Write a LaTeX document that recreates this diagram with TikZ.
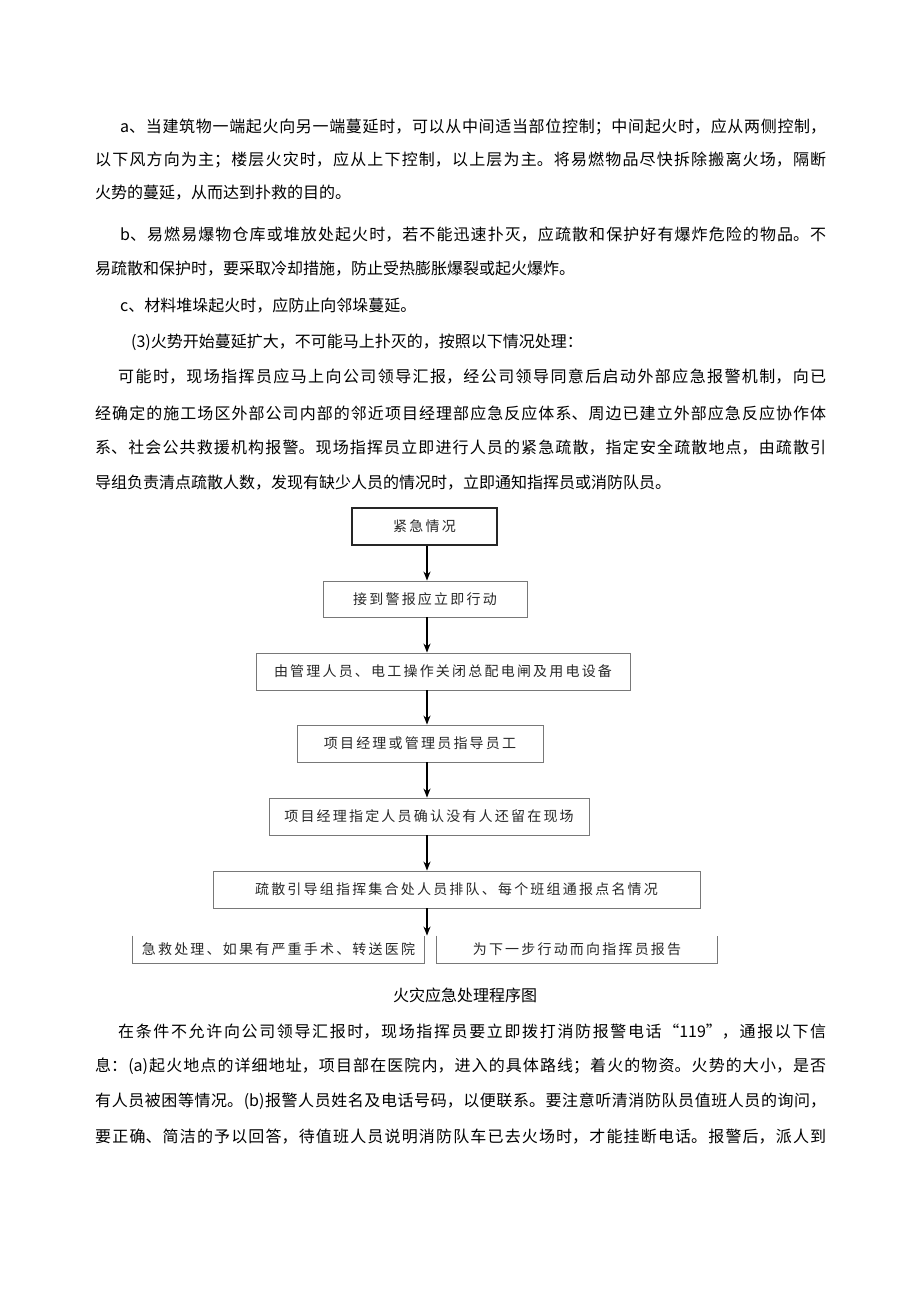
\documentclass[tikz,border=0pt]{standalone}
\usepackage{fontspec}
\setmainfont{Noto Sans CJK SC}
\usetikzlibrary{arrows.meta,positioning,calc}
\XeTeXlinebreaklocale "zh"
\XeTeXlinebreakskip=0pt plus 3pt
\tikzset{every node/.append style={align=center}}
\definecolor{boxline}{RGB}{120,120,120}
\definecolor{flowtext}{RGB}{40,40,40}
\tikzset{
  bodyline/.style={anchor=west, inner sep=0pt, font=\fontsize{16}{19}\selectfont},
  fullline/.style={bodyline, text width=731pt, align=justify},
  flowbox/.style={draw=boxline, line width=0.9pt, minimum height=37pt, inner sep=0pt,
    text=flowtext, font=\fontsize{14}{16}\selectfont},
  flowarrow/.style={-{Stealth[length=9pt,width=7pt]}, line width=1.3pt}
}
\newcommand{\jline}[1]{{\parfillskip=0pt\relax #1\par}}
\newcommand{\spread}[1]{\spreadaux#1\relax}
\def\spreadaux#1{\ifx#1\relax\else\kern1.1pt#1\kern1.1pt\expandafter\spreadaux\fi}

\begin{document}
\begin{tikzpicture}[x=1pt, y=-1pt]
    \useasboundingbox[fill=white] (0,0) rectangle (920,1301);

    % Paragraph a
    \node[fullline] (pa1) at (95,127) {\jline{\hspace*{25pt}a、当建筑物一端起火向另一端蔓延时，可以从中间适当部位控制；中间起火时，应从两侧控制，}};
    \node[fullline] (pa2) at (95,160) {\jline{以下风方向为主；楼层火灾时，应从上下控制，以上层为主。将易燃物品尽快拆除搬离火场，隔断}};
    \node[bodyline] (pa3) at (95,193) {火势的蔓延，从而达到扑救的目的。};

    % Paragraph b
    \node[fullline] (pb1) at (95,235) {\jline{\hspace*{25pt}b、易燃易爆物仓库或堆放处起火时，若不能迅速扑灭，应疏散和保护好有爆炸危险的物品。不}};
    \node[bodyline] (pb2) at (95,269) {易疏散和保护时，要采取冷却措施，防止受热膨胀爆裂或起火爆炸。};

    % Paragraph c
    \node[bodyline] (pc1) at (120,306) {c、材料堆垛起火时，应防止向邻垛蔓延。};

    % Item (3)
    \node[bodyline] (p31) at (131,342) {(3)火势开始蔓延扩大，不可能马上扑灭的，按照以下情况处理：};
    \node[fullline] (pd1) at (95,377) {\jline{\hspace*{23pt}可能时，现场指挥员应马上向公司领导汇报，经公司领导同意后启动外部应急报警机制，向已}};
    \node[fullline] (pd2) at (95,413) {\jline{经确定的施工场区外部公司内部的邻近项目经理部应急反应体系、周边已建立外部应急反应协作体}};
    \node[fullline] (pd3) at (95,448) {\jline{系、社会公共救援机构报警。现场指挥员立即进行人员的紧急疏散，指定安全疏散地点，由疏散引}};
    \node[bodyline] (pd4) at (95,483) {导组负责清点疏散人数，发现有缺少人员的情况时，立即通知指挥员或消防队员。};

    % Flow chart
    \coordinate (axis) at (427,0);
    \node[flowbox, minimum width=145pt, draw=black!85, line width=1.2pt] (jinji) at (424.5,526.5) {\spread{紧急情况}};
    \node[flowbox, minimum width=204pt, minimum height=36pt] (jiedao) at (425,599) {\spread{接到警报应立即行动}};
    \node[flowbox, minimum width=374pt] (guanli) at (443,671.5) {\spread{由管理人员、电工操作关闭总配电闸及用电设备}};
    \node[flowbox, minimum width=246pt] (zhidao) at (420,743.5) {\spread{项目经理或管理员指导员工}};
    \node[flowbox, minimum width=320pt] (queren) at (429,816.5) {\spread{项目经理指定人员确认没有人还留在现场}};
    \node[flowbox, minimum width=487pt] (paidui) at (456.5,889.5) {\spread{疏散引导组指挥集合处人员排队、每个班组通报点名情况}};
    \node[flowbox, draw=none, minimum width=291pt, minimum height=27pt] (jijiu) at (278.5,949.5) {\spread{急救处理、如果有严重手术、转送医院}};
    \node[flowbox, draw=none, minimum width=280pt, minimum height=27pt] (baogao) at (577,949.5) {\spread{为下一步行动而向指挥员报告}};

    % open boxes at the bottom
    \draw[boxline, line width=0.9pt] (jijiu.north west) -- (jijiu.south west) -- (jijiu.south east) -- (jijiu.north east);
    \draw[boxline, line width=0.9pt] (baogao.north west) -- (baogao.south west) -- (baogao.south east) -- (baogao.north east);

    % arrows
    \draw[flowarrow] (jinji.south -| axis) -- (jiedao.north -| axis);
    \draw[flowarrow] (jiedao.south -| axis) -- (guanli.north -| axis);
    \draw[flowarrow] (guanli.south -| axis) -- (zhidao.north -| axis);
    \draw[flowarrow] (zhidao.south -| axis) -- (queren.north -| axis);
    \draw[flowarrow] (queren.south -| axis) -- (paidui.north -| axis);
    \draw[flowarrow] (paidui.south -| axis) -- (jijiu.north -| axis);

    % Caption
    \node[bodyline, anchor=center] (caption) at (465,995) {火灾应急处理程序图};

    % Last paragraph
    \node[fullline] (pe1) at (95,1032) {\jline{\hspace*{23pt}在条件不允许向公司领导汇报时，现场指挥员要立即拨打消防报警电话“119”，通报以下信}};
    \node[fullline] (pe2) at (95,1066) {\jline{息：(a)起火地点的详细地址，项目部在医院内，进入的具体路线；着火的物资。火势的大小，是否}};
    \node[fullline] (pe3) at (95,1101) {\jline{有人员被困等情况。(b)报警人员姓名及电话号码，以便联系。要注意听清消防队员值班人员的询问，}};
    \node[fullline] (pe4) at (95,1137) {\jline{要正确、简洁的予以回答，待值班人员说明消防队车已去火场时，才能挂断电话。报警后，派人到}};
\end{tikzpicture}
\end{document}
